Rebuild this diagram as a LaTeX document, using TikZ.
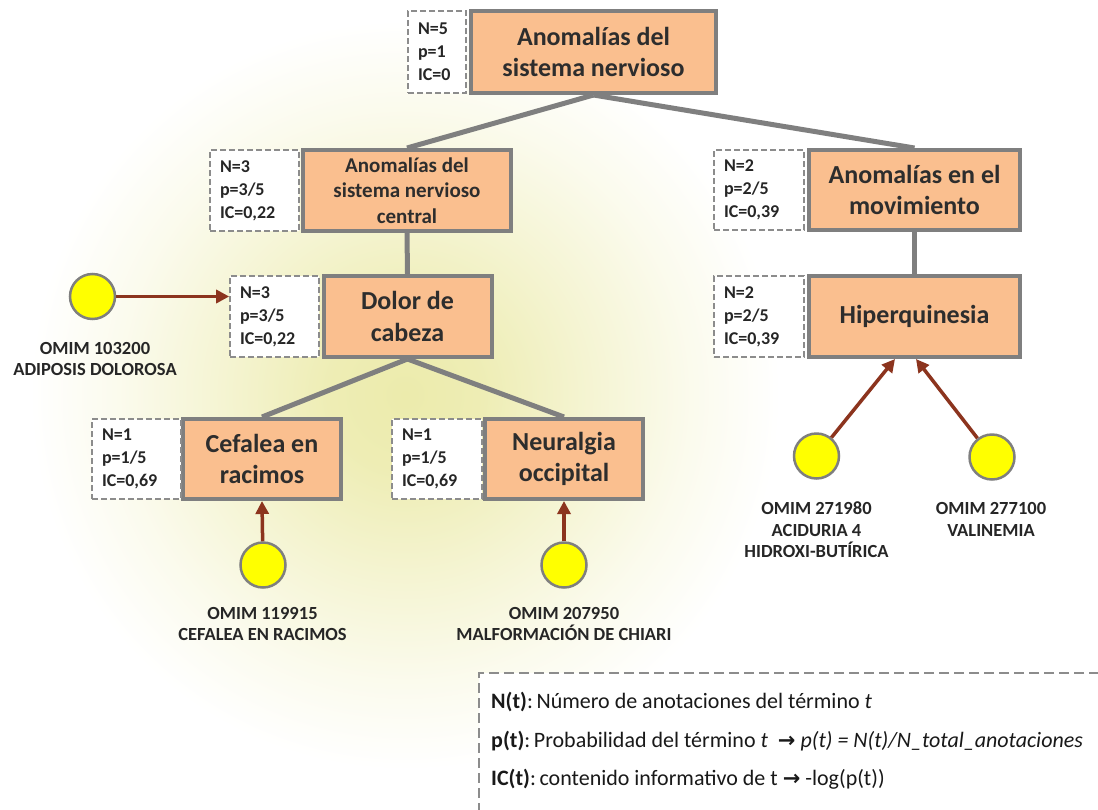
\documentclass[tikz,border=0pt]{standalone}
\usepackage{fontspec}
\setmainfont{Carlito}
\newfontfamily\symfont{DejaVu Sans}
\usetikzlibrary{arrows.meta}

\definecolor{boxfill}{RGB}{250,191,143}
\definecolor{boxline}{RGB}{127,127,127}
\definecolor{dashline}{RGB}{140,140,140}
\definecolor{arrowc}{RGB}{140,52,30}
\definecolor{glowc}{RGB}{236,235,172}
\definecolor{txt}{RGB}{45,45,45}
\definecolor{dot}{RGB}{255,255,0}

% soft glow: the shaded circle's edge sits at 25bp, where it is already white
\pgfdeclareradialshading{glow}{\pgfpoint{0bp}{0bp}}{color(0bp)=(glowc); color(5bp)=(glowc!90!white); color(12bp)=(glowc!55!white); color(19bp)=(glowc!22!white); color(25bp)=(white); color(50bp)=(white)}

\tikzset{
  term/.style={draw=boxline, line width=4pt, fill=boxfill, text=txt, align=center, inner sep=0pt,
    font=\bfseries\fontsize{26}{31.5}\selectfont},
  termsm/.style={term, font=\bfseries\fontsize{21}{25.5}\selectfont},
  info/.style={draw=dashline, line width=1.6pt, dash pattern=on 6pt off 3pt, fill=white, align=left,
    inner ysep=0pt, inner xsep=10pt, text=black!85, font=\bfseries\fontsize{18}{23}\selectfont},
  omim/.style={circle, draw=boxline, line width=2.5pt, fill=dot, minimum size=45pt, inner sep=0pt},
  lbl/.style={font=\bfseries\fontsize{18.5}{21.5}\selectfont, align=center, text=black!85},
  branch/.style={draw=boxline, line width=5pt},
  link/.style={draw=arrowc, line width=3.5pt, -{Triangle[length=13pt,width=13pt]}},
  legendbox/.style={draw=dashline, line width=2pt, dash pattern=on 10pt off 5pt, fill=white},
  legendtxt/.style={anchor=base west, inner sep=0pt, text=black!90, font=\fontsize{22}{26}\selectfont},
}
\newcommand{\legto}{{\symfont\bfseries\fontsize{21}{24}\selectfont →}}

\begin{document}
\begin{tikzpicture}[x=1pt, y=-1pt]
  \useasboundingbox (0,0) rectangle (1098,809);
  \fill[white] (0,0) rectangle (1098,809);
  \shade[shading=glow] (405,395) circle (375pt);

  % ontology terms
  \node[term, minimum width=245pt, minimum height=82pt] (top) at (593.5,52) {Anomalías del\\sistema nervioso};
  \node[termsm, minimum width=208pt, minimum height=81pt] (snc) at (407,190.5) {Anomalías del\\sistema nervioso\\central};
  \node[term, minimum width=211pt, minimum height=80pt] (mov) at (914.5,190) {Anomalías en el\\movimiento};
  \node[term, minimum width=168pt, minimum height=81pt] (dolor) at (407.5,316.5) {Dolor de\\cabeza};
  \node[term, minimum width=211pt, minimum height=81pt] (hiper) at (914.5,316.5) {Hiperquinesia};
  \node[term, minimum width=158pt, minimum height=80pt] (cef) at (262,459) {Cefalea en\\racimos};
  \node[term, minimum width=158pt, minimum height=80pt] (neu) at (564,459) {Neuralgia\\occipital};

  % annotation counts
  \node[info, text width=38pt, minimum height=82pt] (itop) at (437,52) {N=5\\p=1\\IC=0};
  \node[info, text width=69pt, minimum height=81pt] (isnc) at (254.5,190.5) {N=3\\p=3/5\\IC=0,22};
  \node[info, text width=70pt, minimum height=80pt] (imov) at (759,190) {N=2\\p=2/5\\IC=0,39};
  \node[info, text width=69pt, minimum height=81pt] (idolor) at (274.5,316.5) {N=3\\p=3/5\\IC=0,22};
  \node[info, text width=70pt, minimum height=81pt] (ihiper) at (759,316.5) {N=2\\p=2/5\\IC=0,39};
  \node[info, text width=69pt, minimum height=80pt] (icef) at (136.5,459) {N=1\\p=1/5\\IC=0,69};
  \node[info, text width=70pt, minimum height=80pt] (ineu) at (437,459) {N=1\\p=1/5\\IC=0,69};

  % hierarchy
  \draw[branch] (top.south) -- (snc.north);
  \draw[branch] (top.south) -- (mov.north);
  \draw[branch] (snc.south) -- (dolor.north);
  \draw[branch] (mov.south) -- (hiper.north);
  \draw[branch] (dolor.south) -- (cef.north);
  \draw[branch] (dolor.south) -- (neu.north);

  % diseases
  \node[omim] (cadip) at (92.5,296.5) {};
  \node[omim] (ccef) at (263,565) {};
  \node[omim] (cneu) at (564,565) {};
  \node[omim] (cacid) at (816.5,456) {};
  \node[omim] (cval) at (992,457) {};

  \node[lbl] (ladip) at (95,359) {OMIM 103200\\ADIPOSIS DOLOROSA};
  \node[lbl] (lcef) at (262.5,624) {OMIM 119915\\CEFALEA EN RACIMOS};
  \node[lbl] (lneu) at (564,624) {OMIM 207950\\MALFORMACIÓN DE CHIARI};
  \node[lbl] (lacid) at (816.5,530) {OMIM 271980\\ACIDURIA 4\\HIDROXI-BUTÍRICA};
  \node[lbl] (lval) at (991,519.5) {OMIM 277100\\VALINEMIA};

  % annotations
  \draw[link] (cadip) -- (cadip -| idolor.west);
  \draw[link] (ccef) -- (cef.south);
  \draw[link] (cneu) -- (neu.south);
  \draw[link] (cacid) -- ([xshift=-19.5pt]hiper.south);
  \draw[link] (cval) -- ([xshift=1.5pt]hiper.south);

  % legend
  \node[legendbox, anchor=north west, minimum width=660pt, minimum height=170pt] (legend) at (478,672) {};
  \node[legendtxt] (leg1) at (491,708) {\textbf{N(t)}:\,Número de anotaciones del término \textit{t}};
  \node[legendtxt] (leg2) at (491,747) {\textbf{p(t)}:\,Probabilidad del término \textit{t}\ \ \legto\ \textit{p(t) = N(t)/N\_total\_anotaciones}};
  \node[legendtxt] (leg3) at (491,785) {\textbf{IC(t)}:\,contenido informativo de t \legto\ -log(p(t))};
\end{tikzpicture}
\end{document}
